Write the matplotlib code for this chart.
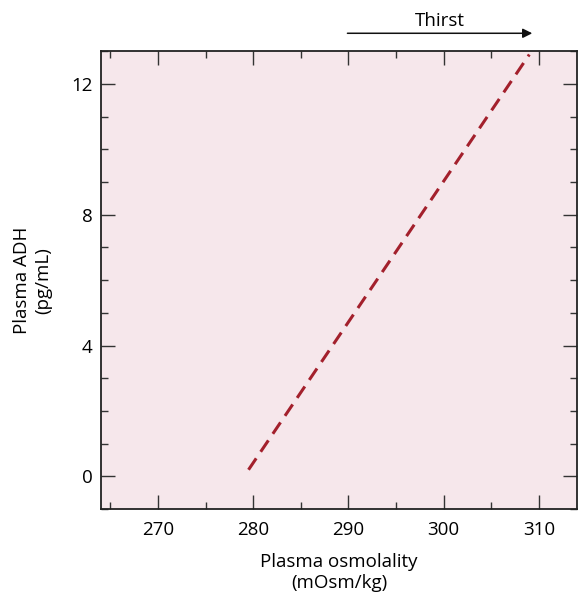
import matplotlib
matplotlib.use('Agg')
from matplotlib import pyplot as plt
from matplotlib.ticker import MultipleLocator

plt.rcParams['font.family'] = ['Open Sans', 'DejaVu Sans']

# threshold line
osmolality = [279.5, 309.0]
adh = [0.2, 12.9]

x_ticks = [270, 280, 290, 300, 310]
y_ticks = [0, 4, 8, 12]

# thirst range (arrow above plot)
thirst_start = 289.6
thirst_end = 309.6
thirst_level = 13.55

fig = plt.figure(figsize=(5.79, 5.96), dpi=100)
ax = fig.add_axes([0.1744, 0.146, 0.822, 0.768])
ax.set_facecolor('#f6e7eb')

ax.plot(osmolality, adh, color='#a3202c', lw=2.2, dashes=(4.5, 2.6))

ax.set_xlim(264, 314)
ax.set_ylim(-1, 13)
ax.set_xticks(x_ticks)
ax.set_yticks(y_ticks)
ax.xaxis.set_minor_locator(MultipleLocator(5))
ax.yaxis.set_minor_locator(MultipleLocator(1))
ax.tick_params(which='both', direction='in', top=True, right=True,
               labelsize=13.5, color='#333333')
ax.tick_params(which='major', length=10, width=1)
ax.tick_params(which='minor', length=5, width=1)
ax.tick_params(axis='x', pad=9)
ax.tick_params(axis='y', pad=6)
for s in ax.spines.values():
    s.set_linewidth(1.3)
    s.set_color('#222222')

ax.set_xlabel('Plasma osmolality\n(mOsm/kg)', fontsize=13.5, labelpad=10,
              linespacing=1.2)
ax.set_ylabel('Plasma ADH\n(pg/mL)', fontsize=13.5, labelpad=14,
              linespacing=1.2)

ax.annotate('', xy=(thirst_end, thirst_level), xytext=(thirst_start, thirst_level),
            xycoords='data', annotation_clip=False,
            arrowprops=dict(arrowstyle='-|>', color='#111111', lw=1.1,
                            mutation_scale=14))
ax.text((thirst_start + thirst_end) / 2, thirst_level + 0.1, 'Thirst',
        ha='center', va='bottom', fontsize=13.5, clip_on=False)

fig.savefig('out.png', dpi=100, facecolor='white')
